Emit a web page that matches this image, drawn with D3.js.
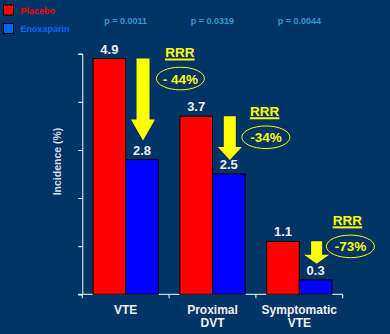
<!DOCTYPE html>
<html><head><meta charset="utf-8">
<script src="https://cdn.jsdelivr.net/npm/d3@7"></script>
<style>html,body{margin:0;padding:0;background:#003366;}svg{display:block;font-family:"Liberation Sans",Arial,sans-serif;}</style>
</head><body><svg id="c" width="390" height="334"></svg>
<script>
const categories = [["VTE"], ["Proximal", "DVT"], ["Symptomatic", "VTE"]];
const seriesNames = ["Placebo", "Enoxaparin"];
const placebo = [4.9, 3.7, 1.1];
const enoxaparin = [2.8, 2.5, 0.3];
const pValues = ["p = 0.0011", "p = 0.0319", "p = 0.0044"];
const rrrLabels = ["- 44%", "-34%", "-73%"];
const yTicks = [0, 1, 2, 3, 4, 5];

const colors = {bg:"#003366", Placebo:"#ff0000", Enoxaparin:"#0000ff", legendPlacebo:"#ff0000", legendEnox:"#0066ff", p:"#3399cc", yellow:"#ffff00", text:"#f0f0f0", axis:"#ffffff"};
const layout = {left:82.3, right:342.7, top:53.7, bottom:294.3,
  rrrDx:[97.5, 95.5, 91.5], rrrDy:[-1.5, -0.5, -16.5],
  arrowGap:[19, 14, 16], arrowHead:[21, 13, 9], arrowShaft:[13, 12, 11], arrowHeadW:[24, 24, 25]};

const svg = d3.select("#c");
svg.append("rect").attr("width",390).attr("height",334).attr("fill",colors.bg);

const x = d3.scaleBand().domain(d3.range(categories.length)).range([layout.left, layout.right]).paddingInner(0).paddingOuter(0);
const x1 = d3.scaleBand().domain(seriesNames).range([0, x.bandwidth()]).paddingInner(0).paddingOuter(0.33);
const y = d3.scaleLinear().domain([0, 5]).range([layout.bottom, layout.top]);

// axes
const yAxis = d3.axisLeft(y).tickValues(yTicks).tickSize(4).tickFormat("");
const gy = svg.append("g").attr("transform",`translate(${layout.left},0)`).call(yAxis);
gy.selectAll("path,line").attr("stroke",colors.axis);
const xAxisTicks = svg.append("g");
xAxisTicks.append("line").attr("x1",layout.left-4).attr("x2",layout.right).attr("y1",layout.bottom).attr("y2",layout.bottom).attr("stroke",colors.axis);
const bounds = d3.range(categories.length+1).map(i => i < categories.length ? x(i) : x(i-1)+x.bandwidth());
xAxisTicks.selectAll("line.t").data(bounds).join("line").attr("class","t")
  .attr("x1",d=>d).attr("x2",d=>d).attr("y1",layout.bottom).attr("y2",layout.bottom+4).attr("stroke",colors.axis);

// bars
const series = [placebo, enoxaparin];
categories.forEach((c,i)=>{
  seriesNames.forEach((s,j)=>{
    const v = series[j][i];
    const bx = x(i)+x1(s);
    svg.append("rect").attr("x",bx).attr("y",y(v)).attr("width",x1.bandwidth()).attr("height",y(0)-y(v))
      .attr("fill",colors[s]).attr("stroke","#000").attr("stroke-width",1);
    svg.append("text").attr("x",bx+x1.bandwidth()/2).attr("y",y(v)-5).attr("text-anchor","middle")
      .attr("fill",colors.text).attr("font-weight","bold").attr("font-size",13).text(v.toFixed(1));
  });
  // category labels
  const t = svg.append("text").attr("x",x(i)+x.bandwidth()/2).attr("y",314).attr("text-anchor","middle")
    .attr("fill",colors.text).attr("font-weight","bold").attr("font-size",12);
  categories[i].forEach((line,k)=>t.append("tspan").attr("x",x(i)+x.bandwidth()/2).attr("dy",k?13:0).text(line));
  // p-values
  svg.append("text").attr("x",x(i)+x.bandwidth()/2).attr("y",24).attr("text-anchor","middle")
    .attr("fill",colors.p).attr("font-weight","bold").attr("font-size",9).text(pValues[i]);
  // arrow
  const ax = x(i)+x1("Enoxaparin")+x1.bandwidth()/2 + 1;
  const y0 = y(placebo[i]), y1 = y(enoxaparin[i]) - layout.arrowGap[i];
  const sw = layout.arrowShaft[i]/2, hw = layout.arrowHeadW[i]/2, hh = layout.arrowHead[i];
  const pts = [[ax-sw,y0],[ax+sw,y0],[ax+sw,y1-hh],[ax+hw,y1-hh],[ax,y1],[ax-hw,y1-hh],[ax-sw,y1-hh]];
  svg.append("path").attr("d",d3.line()(pts)+"Z").attr("fill",colors.yellow);
  // RRR
  const rx = x(i)+layout.rrrDx[i], ry = y(placebo[i])+layout.rrrDy[i];
  svg.append("text").attr("x",rx).attr("y",ry).attr("text-anchor","middle").attr("fill",colors.yellow)
    .attr("font-weight","bold").attr("font-size",13.5).text("RRR");
  svg.append("rect").attr("x",rx-14.8).attr("y",ry+1.5).attr("width",29.6).attr("height",2).attr("fill",colors.yellow);
  const ecx = rx + [0.6,1.3,3][i], ecy = ry + 21.5;
  svg.append("ellipse").attr("cx",ecx).attr("cy",ecy).attr("rx",24).attr("ry",11.3)
    .attr("fill","none").attr("stroke",colors.yellow).attr("stroke-width",1);
  svg.append("text").attr("x",ecx).attr("y",ecy+5).attr("text-anchor","middle").attr("fill",colors.yellow)
    .attr("font-weight","bold").attr("font-size",13.5).text(rrrLabels[i]);
});

// y label
svg.append("text").attr("transform","translate(61,161.5) rotate(-90)").attr("text-anchor","middle")
  .attr("fill","#d8dce8").attr("font-weight","bold").attr("font-size",10.5).text("Incidence (%)");

// legend
const leg = [["Placebo",colors.legendPlacebo,colors.Placebo],["Enoxaparin",colors.legendEnox,"#0066ff"]];
leg.forEach((d,k)=>{
  svg.append("rect").attr("x",3.5).attr("y",5+k*18.5).attr("width",10).attr("height",10).attr("fill",d[2]).attr("stroke","#000").attr("stroke-width",1);
  svg.append("text").attr("x",20.5).attr("y",13.5+k*18.5).attr("fill",d[1]).attr("font-weight","bold").attr("font-size",9).text(d[0]);
});
</script></body></html>
